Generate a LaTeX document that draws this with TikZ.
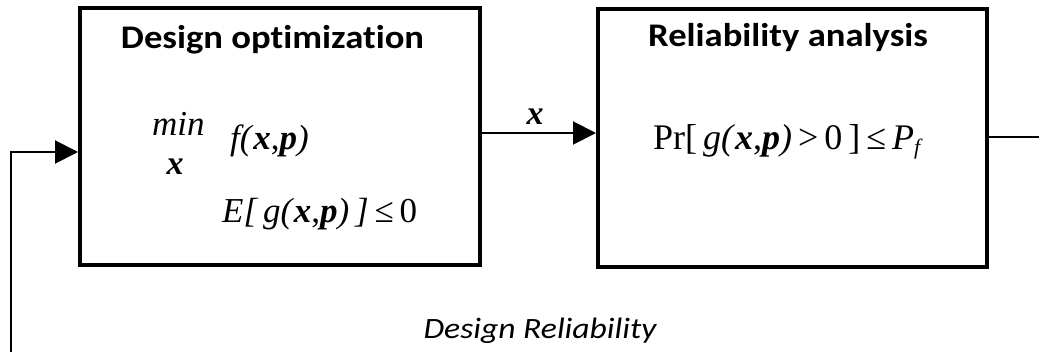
\documentclass[tikz,border=0pt]{standalone}
\usepackage{fontspec}
\setmainfont{Liberation Serif}
\newfontfamily\calibri[FakeStretch=1.11,Ligatures=NoCommon]{Carlito}
\newfontfamily\calibriw[FakeStretch=1.14,Ligatures=NoCommon]{Carlito}
\usetikzlibrary{arrows.meta}
\newcommand{\bx}{\textbf{\textit{x}}}
\newcommand{\bp}{\textbf{\textit{p}}}
\begin{document}
\begin{tikzpicture}[x=1pt,y=-1pt,
  block/.style={draw,line width=4pt,inner sep=0pt,minimum width=#1},
  title/.style={font=\calibri\bfseries\fontsize{33}{37}\selectfont,anchor=base,inner sep=0pt},
  formula/.style={font=\rmfamily\fontsize{36}{40}\selectfont,anchor=base west,inner sep=0pt},
  conn/.style={line width=2pt},
  arr/.style={conn,-{Triangle[length=23pt,width=23pt]}}]
\useasboundingbox (0,0) rectangle (1039,352);
% the two blocks
\node[block=400pt,minimum height=257pt] (opt) at (280,136.5) {};
\node[block=389pt,minimum height=258pt] (rel) at (792.5,138) {};
% block titles
\node[title] (optT) at (272.5,49) {Design optimization};
\node[title] (relT) at (788,47) {Reliability analysis};
% optimization problem
\node[formula,font=\rmfamily\itshape\fontsize{35}{38}\selectfont] (min) at (152,136) {min};
\node[formula,anchor=base,font=\rmfamily\fontsize{34}{38}\selectfont] (minx) at (175,175) {\bx};
\node[formula,font=\rmfamily\fontsize{35}{38}\selectfont] (obj) at (230,150) {\textit{f(}\bx,\bp\textit{)}};
\node[formula,font=\rmfamily\fontsize{35}{38}\selectfont] (con) at (222,223) {\textit{E[\,g(}\bx,\bp\textit{)\,]}\,≤\,0};
% reliability constraint
\node[formula] (pr) at (653,150) {Pr[\,\textit{g(}\bx,\bp\textit{)}\,>\,0\,]\,≤\,\textit{P}\raisebox{-0.3ex}{\fontsize{22}{24}\selectfont\textit{f}}};
% connectors
\coordinate (ya) at (0,133);
\coordinate (yb) at (0,137);
\coordinate (yc) at (0,152);
\coordinate (outR) at (1039,137);
\coordinate (fb) at (11,352);
\draw[arr] (opt.east |- ya) -- (rel.west |- ya);
\node[formula,anchor=base,font=\rmfamily\fontsize{34}{38}\selectfont] (xlab) at (535,125) {\bx};
\draw[conn] (rel.east |- yb) -- (outR);
\draw[arr] (fb) |- (opt.west |- yc);
\node[font=\calibriw\itshape\fontsize{29.5}{33}\selectfont,anchor=base,inner sep=0pt] (lab) at (540,339) {Design Reliability};
\end{tikzpicture}
\end{document}
